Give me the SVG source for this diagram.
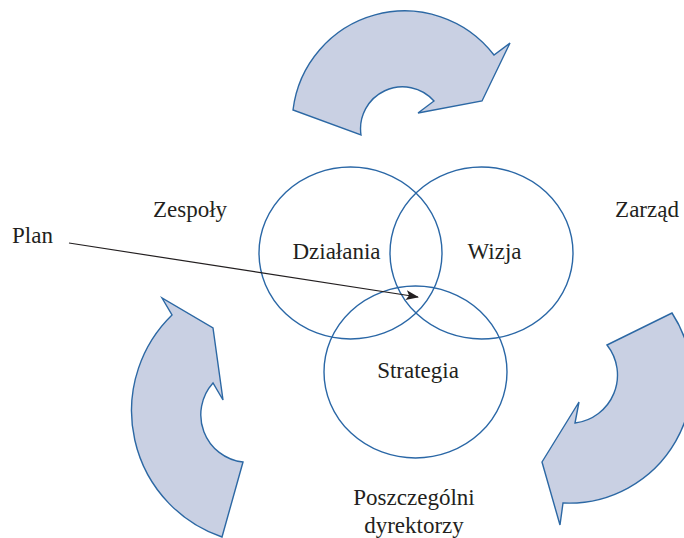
<svg xmlns="http://www.w3.org/2000/svg" width="684" height="538" viewBox="0 0 684 538">
  <style>
    .cycle { fill: #c9d0e3; stroke: #2c68a4; stroke-width: 1.4; stroke-linejoin: miter; }
    .ring { fill: none; stroke: #2a67a6; stroke-width: 1.4; }
    .lbl { font-family: "Liberation Serif", "Times New Roman", serif; font-size: 23px; fill: #231f20; }
    .mid { text-anchor: middle; }
    .pointer { fill: none; stroke: #231f20; stroke-width: 1.2; }
  </style>
  <defs>
    <marker id="head" markerUnits="userSpaceOnUse" markerWidth="14" markerHeight="10" refX="12" refY="5" orient="auto">
      <path d="M0,0 L13,5 L0,10 L3,5 Z" fill="#231f20"/>
    </marker>
  </defs>

  <!-- curved cycle arrows -->
  <g id="arrow-top">
    <path class="cycle" d="M293,110 A112.5,112.5 0 0 1 494,55 L510,43 L482,101 L418,113 L434,101 A42,42 0 0 0 361,135 Z"/>
  </g>
  <g id="arrow-left">
    <path class="cycle" d="M162,298 L172,315 A133.4,133.4 0 0 0 222,537 L243,462 A47.5,47.5 0 0 1 213,383 L223,400 L213,328 Z"/>
  </g>
  <g id="arrow-right">
    <path class="cycle" d="M607,345 L672,313 A123,123 0 0 1 563,503 L560,525 L542,462 L579,402 L575,423 A48.3,48.3 0 0 0 607,345 Z"/>
  </g>

  <!-- overlapping circles -->
  <g id="dzialania">
    <ellipse class="ring" cx="350.5" cy="253" rx="91.5" ry="86"/>
    <text class="lbl mid" x="336.5" y="259">Działania</text>
  </g>
  <g id="wizja">
    <ellipse class="ring" cx="481.5" cy="253" rx="91.5" ry="86"/>
    <text class="lbl mid" x="494.5" y="259">Wizja</text>
  </g>
  <g id="strategia">
    <ellipse class="ring" cx="415.5" cy="372" rx="91.5" ry="86"/>
    <text class="lbl mid" x="418" y="378">Strategia</text>
  </g>

  <!-- outer labels -->
  <g id="zespoly">
    <text class="lbl mid" x="190" y="217">Zespoły</text>
  </g>
  <g id="zarzad">
    <text class="lbl mid" x="647" y="217">Zarząd</text>
  </g>
  <g id="dyrektorzy">
    <text class="lbl mid" x="414" y="505">Poszczególni</text>
    <text class="lbl mid" x="414" y="533">dyrektorzy</text>
  </g>
  <g id="plan">
    <text class="lbl" x="12" y="243">Plan</text>
  </g>

  <!-- connectors -->
  <g id="connectors">
    <line class="pointer" x1="69" y1="243" x2="418" y2="297" marker-end="url(#head)"/>
  </g>
</svg>
